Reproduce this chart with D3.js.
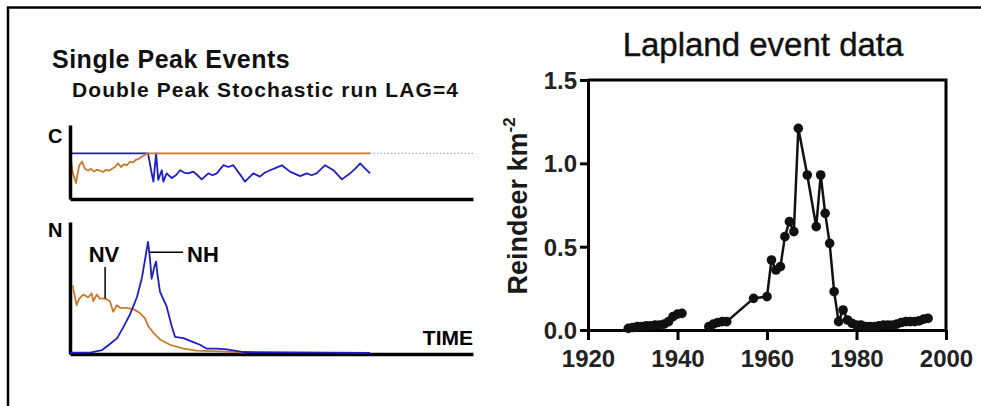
<!DOCTYPE html>
<html><head><meta charset="utf-8">
<script src="https://cdn.jsdelivr.net/npm/d3@7"></script>
<style>
html,body{margin:0;padding:0;background:#fff;}
svg{display:block;}
</style></head>
<body>
<svg id="chart" width="981" height="406"></svg>
<script>
// ---------- Left panel: schematic simulation (time units) ----------
const cTime   = [0,1,2,3,4,5,6,7,8,9,10,11,12,13,14,15,16,17,18,19,20,21,22,23,24,25,26,100];
const cVeg    = [1.0,0.55,0.35,0.72,0.82,0.66,0.62,0.66,0.60,0.64,0.62,0.59,0.64,0.62,0.66,0.70,0.78,0.70,0.76,0.74,0.82,0.80,0.86,0.88,0.93,0.97,1.0,1.0];
const cHerbTime = [0,26,27.2,27.8,28.7,29.4,30.6,31.1,32.2,33.9,35.3,36.7,38,39.4,41.1,42.5,43.9,46.1,47.5,48.9,51.1,52.8,54.4,57.2,58.3,61.1,63.3,65,66.7,68.6,70.6,73.3,76.7,78.9,80.5,82.2,85,87.8,90.6,93.3,95,96.7,98.3,100];
const cHerb     = [1.0,1.0,0.57,0.38,1.0,0.42,0.63,0.38,0.56,0.46,0.52,0.63,0.58,0.56,0.60,0.52,0.43,0.56,0.52,0.56,0.74,0.70,0.74,0.49,0.38,0.56,0.49,0.58,0.63,0.68,0.74,0.60,0.50,0.56,0.52,0.56,0.74,0.63,0.43,0.56,0.66,0.78,0.67,0.56];
const cRefTime = [100,134.3];
const cRef     = [1.0,1.0];

const nVegTime = [0.9,1.3,2.2,3.1,4.4,6.1,7.2,7.8,8.9,10,11.7,13.3,14.4,15.6,16.7,18.9,21.1,23.3,25,26.1,27.8,30,33.3,37.8,42.2,50,58.3];
const nVeg     = [0.52,0.47,0.37,0.42,0.45,0.43,0.46,0.40,0.45,0.42,0.42,0.40,0.32,0.37,0.35,0.35,0.34,0.31,0.27,0.21,0.16,0.11,0.07,0.04,0.025,0.02,0.01];
const nHerbTime = [0,6.7,10.7,13.3,15.7,17.7,20,22.3,24,25.7,26,26.7,27.2,28.1,28.7,29.1,30,32.2,33.9,35,37.8,41.1,43.3,45.6,48.9,52.2,57.8,100];
const nHerb     = [0.01,0.01,0.03,0.076,0.12,0.20,0.30,0.43,0.58,0.81,0.85,0.71,0.57,0.66,0.70,0.61,0.47,0.36,0.21,0.13,0.12,0.09,0.07,0.04,0.04,0.035,0.015,0.008];

// ---------- Right panel: Lapland event data ----------
const lapYears  = [1929,1930,1931,1932,1933,1934,1935,1936,1937,1938,1939,1940,1941,1944,1947,1948,1949,1950,1951,1957,1960,1961,1962,1963,1964,1965,1966,1967,1969,1971,1972,1973,1974,1975,1976,1977,1978,1979,1980,1981,1982,1983,1984,1985,1986,1987,1988,1989,1990,1991,1992,1993,1994,1995,1996];
const lapValues = [0.01,0.015,0.02,0.02,0.025,0.025,0.03,0.03,0.035,0.05,0.08,0.095,0.10,null,0.02,0.035,0.045,0.05,0.05,0.19,0.20,0.42,0.36,0.38,0.56,0.65,0.59,1.21,0.93,0.62,0.93,0.70,0.52,0.23,0.05,0.12,0.06,0.04,0.03,0.03,0.02,0.02,0.02,0.025,0.03,0.03,0.03,0.035,0.045,0.05,0.05,0.05,0.055,0.065,0.07];
const xTicks = [1920,1940,1960,1980,2000];
const yTicks = [0,0.5,1.0,1.5];

const svg = d3.select('#chart');
const ORANGE = '#c67a2a', BLUE = '#1e1ec4';

// outer frame
svg.append('path').attr('d','M8,406 L8,7.5 L981,7.5').attr('fill','none').attr('stroke','#000').attr('stroke-width',2.5);

// ----- left panel scales -----
const xL = d3.scaleLinear().domain([0,134.3]).range([70,473]);
const yC = d3.scaleLinear().domain([0,1.62]).range([199,125]);
const yN = d3.scaleLinear().domain([0,1]).range([354,222]);

const bold = "'Liberation Sans', Arial, sans-serif";
svg.append('text').attr('x',52).attr('y',68).attr('font-family',bold).attr('font-weight','bold')
  .attr('font-size',25).attr('letter-spacing',0.5).attr('fill','#111').text('Single Peak Events');
svg.append('text').attr('x',72).attr('y',97).attr('font-family',bold).attr('font-weight','bold')
  .attr('font-size',21).attr('letter-spacing',1.1).attr('fill','#111').text('Double Peak Stochastic run LAG=4');

// C panel
const lineC = (xs, ys) => d3.line().x((d,i)=>xL(xs[i])).y((d,i)=>yC(ys[i]))(ys);
svg.append('path').attr('d',lineC(cRefTime,cRef)).attr('fill','none').attr('stroke','#aaa').attr('stroke-width',1.2).attr('stroke-dasharray','1.5,2');
svg.append('path').attr('d',lineC(cHerbTime,cHerb)).attr('fill','none').attr('stroke',BLUE).attr('stroke-width',1.8).attr('stroke-linejoin','round');
svg.append('path').attr('d',lineC(cTime,cVeg)).attr('fill','none').attr('stroke',ORANGE).attr('stroke-width',1.8).attr('stroke-linejoin','round');

const axC = svg.append('g').attr('transform',`translate(0,${yC(0)})`).call(d3.axisBottom(xL).tickValues([]).tickSizeOuter(0));
const axCl = svg.append('g').attr('transform',`translate(${xL(0)},0)`).call(d3.axisLeft(yC).tickValues([]).tickSizeOuter(0));
[axC,axCl].forEach(g=>g.select('.domain').attr('stroke','#000').attr('stroke-width',3.5));
svg.append('text').attr('x',48).attr('y',143).attr('font-family',bold).attr('font-weight','bold').attr('font-size',20).text('C');

// N panel
const lineN = (xs, ys) => d3.line().x((d,i)=>xL(xs[i])).y((d,i)=>yN(ys[i]))(ys);
const axN = svg.append('g').attr('transform',`translate(0,${yN(0)})`).call(d3.axisBottom(xL).tickValues([]).tickSizeOuter(0));
const axNl = svg.append('g').attr('transform',`translate(${xL(0)},0)`).call(d3.axisLeft(yN).tickValues([]).tickSizeOuter(0));
[axN,axNl].forEach(g=>g.select('.domain').attr('stroke','#000').attr('stroke-width',3.5));
svg.append('path').attr('d',lineN(nVegTime,nVeg)).attr('fill','none').attr('stroke',ORANGE).attr('stroke-width',1.8).attr('stroke-linejoin','round');
svg.append('path').attr('d',lineN(nHerbTime,nHerb)).attr('fill','none').attr('stroke',BLUE).attr('stroke-width',1.8).attr('stroke-linejoin','round');
svg.append('text').attr('x',48).attr('y',237).attr('font-family',bold).attr('font-weight','bold').attr('font-size',20).text('N');

// annotations
svg.append('line').attr('x1',xL(11.7)).attr('x2',xL(11.7)).attr('y1',yN(0.66)).attr('y2',yN(0.42)).attr('stroke','#000').attr('stroke-width',1.5);
svg.append('line').attr('x1',xL(26.3)).attr('x2',xL(37.7)).attr('y1',yN(0.77)).attr('y2',yN(0.77)).attr('stroke','#000').attr('stroke-width',1.5);
svg.append('text').attr('x',xL(11.3)).attr('y',yN(0.70)).attr('text-anchor','middle').attr('font-family',bold).attr('font-weight','bold').attr('font-size',22).text('NV');
svg.append('text').attr('x',xL(39)).attr('y',yN(0.70)).attr('font-family',bold).attr('font-weight','bold').attr('font-size',22).text('NH');
svg.append('text').attr('x',xL(134.3)).attr('y',345).attr('text-anchor','end').attr('font-family',bold).attr('font-weight','bold').attr('font-size',21).text('TIME');

// ----- right panel -----
const xR = d3.scaleLinear().domain([1920,2000]).range([588,946]);
const yR = d3.scaleLinear().domain([0,1.5]).range([330,80]);
const lap = lapYears.map((y,i)=>({year:y,v:lapValues[i]}));

svg.append('text').attr('x',763).attr('y',56).attr('text-anchor','middle').attr('font-family',bold)
  .attr('font-size',33).attr('fill','#111').attr('stroke','#111').attr('stroke-width',0.4).text('Lapland event data');

// frame top/right
svg.append('path').attr('d',`M${xR(1920)},${yR(1.5)} L${xR(2000)},${yR(1.5)} L${xR(2000)},${yR(0)}`).attr('fill','none').attr('stroke','#000').attr('stroke-width',3);

const gx = svg.append('g').attr('transform',`translate(0,${yR(0)})`)
  .call(d3.axisBottom(xR).tickValues(xTicks).tickFormat(d3.format('d')).tickSize(10).tickSizeOuter(0).tickPadding(10));
const gy = svg.append('g').attr('transform',`translate(${xR(1920)},0)`)
  .call(d3.axisLeft(yR).tickValues(yTicks).tickFormat(d3.format('.1f')).tickSize(8).tickSizeOuter(0).tickPadding(3));
[gx,gy].forEach(g=>{
  g.select('.domain').attr('stroke','#000').attr('stroke-width',3);
  g.selectAll('.tick line').attr('stroke','#000').attr('stroke-width',3);
  g.selectAll('.tick text').attr('fill','#222').attr('font-family',bold).attr('font-weight','bold').attr('font-size',24);
});
gy.selectAll('.tick text').attr('dy','0.36em');

const yl = svg.append('text').attr('transform','translate(527,206) rotate(-90)').attr('text-anchor','middle')
  .attr('font-family',bold).attr('font-weight','bold').attr('font-size',27).attr('fill','#1a1a1a');
yl.append('tspan').text('Reindeer km');
yl.append('tspan').attr('font-size',17).attr('dy',-12).text('-2');

svg.append('path').datum(lap)
  .attr('d',d3.line().defined(d=>d.v!=null).x(d=>xR(d.year)).y(d=>yR(d.v)))
  .attr('fill','none').attr('stroke','#111').attr('stroke-width',2.5).attr('stroke-linejoin','round');
svg.selectAll('circle.pt').data(lap.filter(d=>d.v!=null)).enter().append('circle').attr('class','pt')
  .attr('cx',d=>xR(d.year)).attr('cy',d=>yR(d.v)).attr('r',4.8).attr('fill','#111');
</script>
</body></html>
